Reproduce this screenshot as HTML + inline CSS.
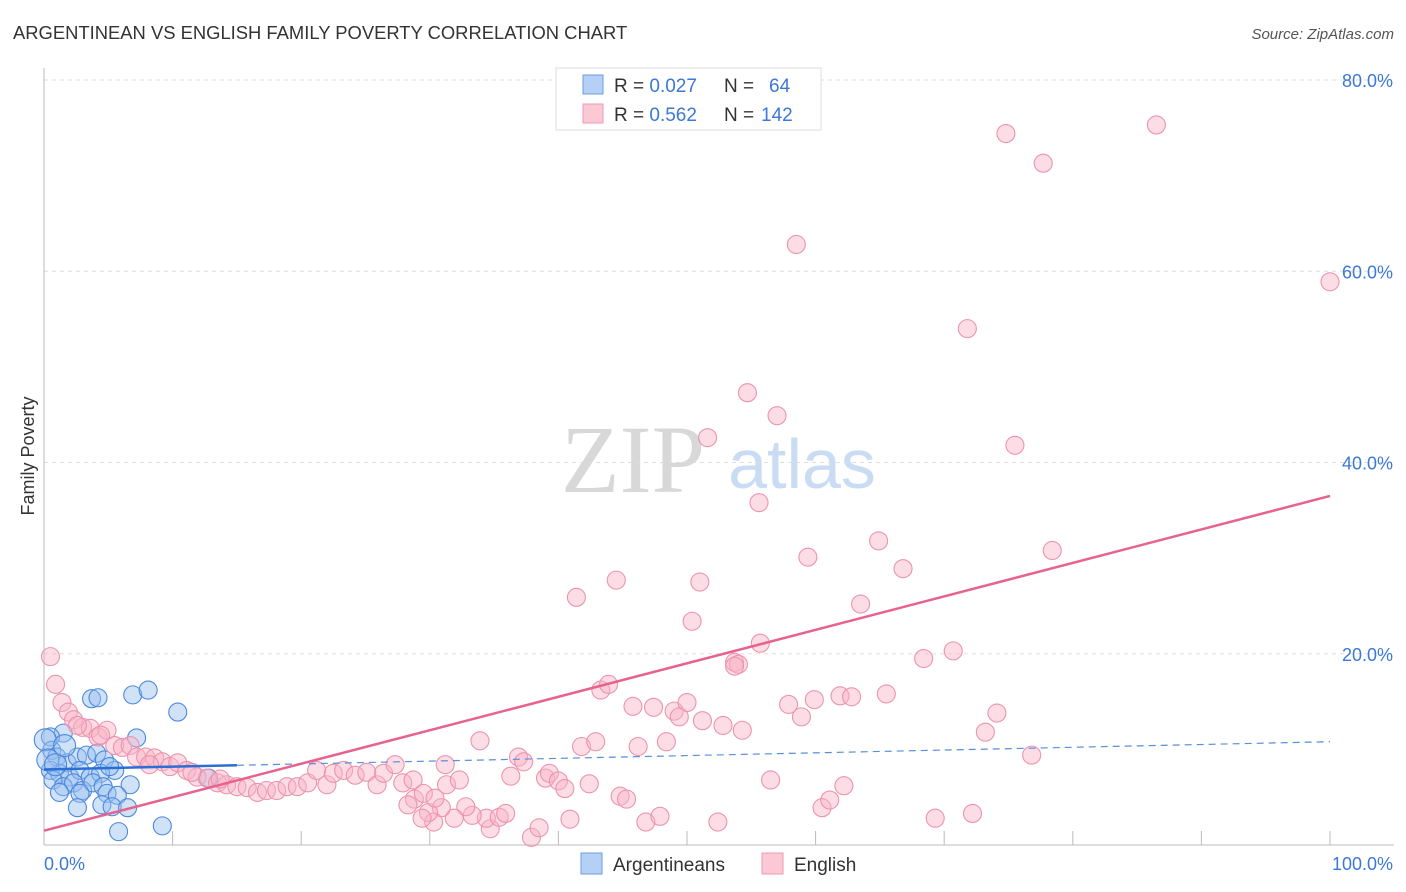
<!DOCTYPE html>
<html><head><meta charset="utf-8">
<style>
body{margin:0;background:#fff;font-family:"Liberation Sans",sans-serif;}
svg{display:block}
</style></head>
<body>
<svg id="chart" width="1406" height="892" viewBox="0 0 1406 892" xmlns="http://www.w3.org/2000/svg">
<text x="13" y="39" font-size="18.4" fill="#333">ARGENTINEAN VS ENGLISH FAMILY POVERTY CORRELATION CHART</text>
<text x="1394" y="39" font-size="15" fill="#555" font-style="italic" text-anchor="end">Source: ZipAtlas.com</text>
<g>
<text x="633" y="492" font-family="Liberation Serif,serif" font-size="96" fill="#d8d8d8" text-anchor="middle">ZIP</text>
<text x="802" y="488" font-size="70" fill="#c9dcf3" text-anchor="middle">atlas</text>
</g>
<g id="grid"></g>
<g id="axes"></g>
<g id="blue"></g>
<g id="pink"></g>
<g id="trends"></g>
<text transform="translate(34,456) rotate(-90)" font-size="18" fill="#333" text-anchor="middle">Family Poverty</text>
<g>
<rect x="556" y="68" width="265" height="62" fill="#fff" stroke="#ddd"/>
<rect x="583" y="75" width="20" height="19" fill="#b5d0f5" stroke="#6b9be0"/>
<rect x="583" y="104" width="20" height="19" fill="#fbc8d6" stroke="#ec9ab2"/>
<text x="614" y="92" font-size="19" fill="#333">R = <tspan fill="#3b78d8">0.027</tspan><tspan x="724">N = </tspan><tspan x="769" fill="#3b78d8">64</tspan></text>
<text x="614" y="121" font-size="19" fill="#333">R = <tspan fill="#3b78d8">0.562</tspan><tspan x="724">N = </tspan><tspan x="761" fill="#3b78d8">142</tspan></text>
</g>
<g>
<rect x="581" y="853" width="21" height="21" fill="#b5d0f5" stroke="#6b9be0"/>
<text x="613" y="871" font-size="19" fill="#333">Argentineans</text>
<rect x="762" y="853" width="21" height="21" fill="#fbc8d6" stroke="#ec9ab2"/>
<text x="794" y="871" font-size="19" fill="#333">English</text>
</g>
</svg>
<script>
const yTicks=[20,40,60,80];
const yTickLabels=["20.0%","40.0%","60.0%","80.0%"];
const xTicks=[0,10,20,30,40,50,60,70,80,90,100];
const xEndLabels=["0.0%","100.0%"];
const blueX=[3.7,4.2,6.9,8.1,10.4,7.2,1.5,0.5,0.6,1.0,1.8,2.6,3.3,4.1,4.7,5.5,0.5,1.2,2.0,2.8,3.6,4.4,5.1,0.7,1.5,2.3,3.0,3.8,4.6,6.7,1.2,2.8,4.9,5.7,2.6,4.5,5.3,6.5,5.8,9.2,12.8,0.1,0.3,0.9,1.6];
const blueY=[15.3,15.4,15.7,16.2,13.9,11.2,11.7,11.3,9.9,9.2,8.6,9.2,9.4,9.6,8.9,7.8,7.8,7.5,7.1,7.8,7.1,7.5,8.2,6.8,6.1,6.5,5.7,6.5,6.1,6.3,5.5,5.4,5.4,5.2,3.9,4.2,4.0,3.9,1.4,2.0,7.0,11.0,8.9,8.4,10.4];
const pinkX=[74.8,86.5,77.7,58.5,100,71.8,54.7,57.0,51.6,75.5,55.6,64.9,78.4,59.4,44.5,51.0,66.8,41.4,63.5,50.4,55.7,53.7,54.0,74.1,73.2,76.8,
31.3,32.3,36.3,36.9,37.3,39.0,39.3,40.0,40.5,42.4,44.8,45.3,46.8,47.9,52.4,56.5,60.5,61.1,62.2,69.3,72.2,40.9,37.9,38.5,34.7,34.4,35.4,35.9,33.3,32.8,31.9,30.9,30.3,29.9,29.4,28.8,28.3,33.9,41.8,42.9,46.2,48.4,45.8,47.4,49.0,50.0,49.4,51.2,52.8,54.3,43.3,43.9,57.9,58.9,59.9,61.9,62.8,65.5,68.4,70.7,53.7,
0.5,0.9,1.4,1.9,2.3,3.0,3.6,4.2,4.9,5.5,6.1,6.7,7.2,7.9,8.6,9.2,9.8,10.4,11.1,11.9,12.7,13.5,14.2,15.0,15.8,16.6,17.3,18.1,18.9,19.7,20.5,21.2,22.0,22.5,23.3,24.2,25.1,25.9,26.4,27.3,27.9,28.7,29.5,30.4,31.2,2.6,4.4,8.2,11.5,13.7];
const pinkY=[74.4,75.3,71.3,62.8,58.9,54.0,47.3,44.9,42.6,41.8,35.8,31.8,30.8,30.1,27.7,27.5,28.9,25.9,25.2,23.4,21.1,19.1,18.9,13.8,11.8,9.4,
6.3,6.8,7.2,9.2,8.7,7.0,7.5,6.7,5.9,6.4,5.1,4.8,2.4,3.0,2.4,6.8,3.9,4.7,6.2,2.8,3.3,2.7,0.8,1.8,1.7,2.8,2.9,3.3,3.1,4.0,2.8,3.9,2.4,3.4,2.8,4.8,4.2,10.9,10.3,10.8,10.3,10.8,14.5,14.4,14.0,14.9,13.4,13.0,12.5,12.0,16.2,16.8,14.7,13.4,15.2,15.6,15.5,15.8,19.5,20.3,18.7,
19.7,16.8,14.9,13.9,13.1,12.3,12.2,11.3,12.0,10.4,10.2,10.4,9.2,9.2,9.1,8.7,8.2,8.6,7.8,7.1,7.0,6.5,6.3,6.1,6.0,5.5,5.7,5.7,6.1,6.1,6.5,7.8,6.3,7.5,7.8,7.3,7.6,6.3,7.5,8.4,6.5,6.8,5.4,4.9,8.4,12.5,11.5,8.4,7.6,6.9];
const blueTrend=[7.9,10.8];
const blueSolidEnd=15;
const pinkTrend=[1.5,36.5];

const NS="http://www.w3.org/2000/svg";
const X0=44,X1=1330,Y0=845,YTOP=80;
const sx=v=>X0+(X1-X0)*v/100;
const sy=v=>Y0-(Y0-YTOP)*v/80;
function mk(tag,attrs,parent){const e=document.createElementNS(NS,tag);for(const k in attrs)e.setAttribute(k,attrs[k]);parent.appendChild(e);return e;}
const grid=document.getElementById('grid'),axes=document.getElementById('axes');
yTicks.forEach((t,i)=>{
  const l=mk('line',{x1:X0,x2:1394,y1:sy(t),y2:sy(t),stroke:'#ddd','stroke-dasharray':'4,4'},grid);
  
  
  const tx=mk('text',{x:1393,y:sy(t)+7,'font-size':18,fill:'#3b78d8','text-anchor':'end'},axes);
  tx.textContent=yTickLabels[i];
  
  
});
const ya=mk('line',{x1:X0,x2:X0,y1:68,y2:Y0,stroke:'#bbb'},axes);


const xa=mk('line',{x1:X0,x2:1394,y1:Y0,y2:Y0,stroke:'#bbb'},axes);


xTicks.forEach(t=>{
  const l=mk('line',{x1:sx(t),x2:sx(t),y1:Y0-14,y2:Y0,stroke:'#bbb'},axes);
  
  
});
const xl0=mk('text',{x:44,y:870,'font-size':18,fill:'#3b78d8'},axes);xl0.textContent=xEndLabels[0];


const xl1=mk('text',{x:1393,y:870,'font-size':18,fill:'#3b78d8','text-anchor':'end'},axes);xl1.textContent=xEndLabels[1];



const bg=document.getElementById('blue');
blueX.forEach((x,i)=>{
  const c=mk('circle',{cx:sx(x),cy:sy(blueY[i]),r:i>=41?11:9,fill:'rgba(150,190,240,0.45)',stroke:'#4d88dc','stroke-width':1.1},bg);
  
  
});
const pg=document.getElementById('pink');
pinkX.forEach((x,i)=>{
  const c=mk('circle',{cx:sx(x),cy:sy(pinkY[i]),r:9,fill:'rgba(248,180,200,0.45)',stroke:'#ec93ae','stroke-width':1.1},pg);
  
  
});
const tg=document.getElementById('trends');
const by=x=>blueTrend[0]+(blueTrend[1]-blueTrend[0])*x/100;
const bd=mk('line',{x1:sx(blueSolidEnd),y1:sy(by(blueSolidEnd)),x2:sx(100),y2:sy(by(100)),stroke:'#5b8fd6','stroke-width':1.2,'stroke-dasharray':'7,5'},tg);


const bs=mk('line',{x1:sx(0),y1:sy(by(0)),x2:sx(blueSolidEnd),y2:sy(by(blueSolidEnd)),stroke:'#2a6fd4','stroke-width':2.5},tg);


const pl=mk('line',{x1:sx(0),y1:sy(pinkTrend[0]),x2:sx(100),y2:sy(pinkTrend[1]),stroke:'#e8628e','stroke-width':2.5},tg);


</script>
</body></html>
